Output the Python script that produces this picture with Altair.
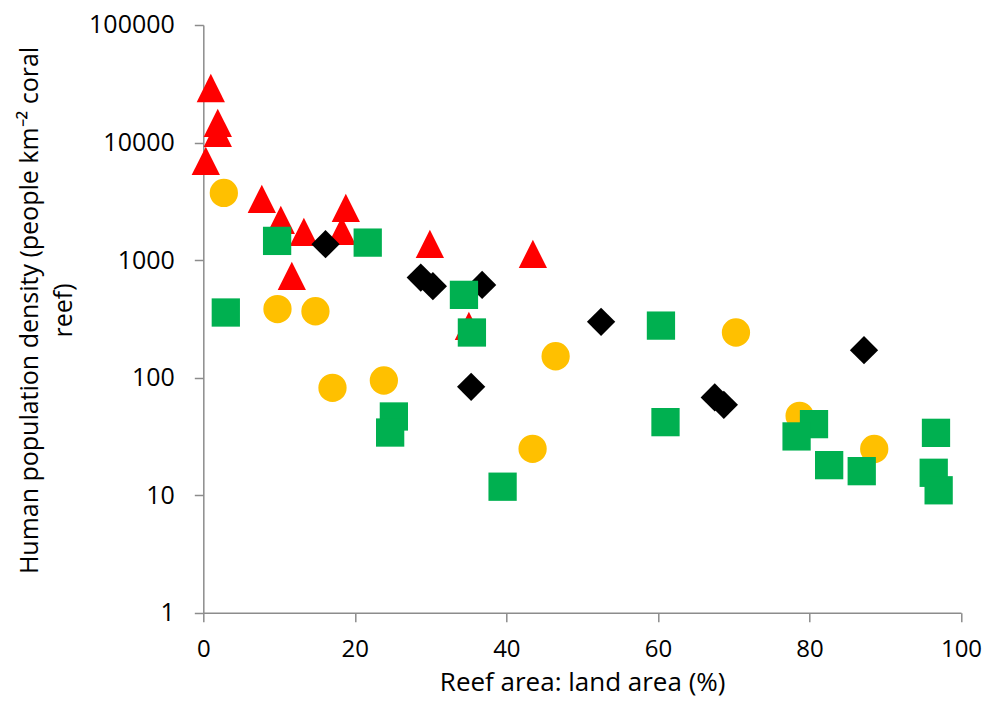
import altair as alt
import pandas as pd

# Red triangles
tri_x = [0.99, 1.91, 1.91, 0.33, 7.72, 10.23, 13.27, 18.81, 18.28, 11.68, 29.9, 43.5, 35.05]
tri_y = [29100, 14700, 12070, 6980, 3315, 2197, 1738, 2780, 1771, 734, 1373, 1129, 276]

# Yellow circles
circ_x = [2.71, 9.79, 14.8, 17.05, 23.83, 46.5, 70.3, 43.46, 78.7, 88.55]
circ_y = [3727, 383, 367, 81.9, 94.5, 152, 242, 24.8, 47.3, 24.7]

# Black diamonds
dia_x = [16.13, 28.7, 30.3, 36.8, 35.35, 52.5, 67.5, 68.7, 87.2]
dia_y = [1365, 710, 600, 615, 83.5, 298, 67.8, 58.7, 171]

# Green squares
sq_x = [9.74, 21.7, 2.97, 34.4, 35.45, 25.15, 24.66, 60.4, 61.0, 39.5, 80.6, 78.3, 82.6, 86.9, 96.7, 96.4, 97.05]
sq_y = [1456, 1408, 358, 506, 242, 46.7, 34.1, 277, 41.8, 11.8, 40.2, 31.6, 18.0, 16.0, 33.9, 15.5, 11.0]

series_names = ["triangle", "circle", "diamond", "square"]
series_colors = ["#FF0000", "#FFC000", "#000000", "#00B050"]
series_shapes = ["M-1,1L1,1L0,-1Z", "circle", "diamond", "square"]
series_sizes = [800, 800, 625, 800]

x_ticks = [0, 20, 40, 60, 80, 100]
y_ticks = [1, 10, 100, 1000, 10000, 100000]

rows = []
for name, xs, ys in zip(series_names, [tri_x, circ_x, dia_x, sq_x], [tri_y, circ_y, dia_y, sq_y]):
    for xv, yv in zip(xs, ys):
        rows.append({"series": name, "x": xv, "y": yv})
df = pd.DataFrame(rows)

FONT = "Open Sans"
AXIS_GRAY = "#8C8C8C"

chart = alt.Chart(df).mark_point(filled=True, opacity=1, strokeWidth=0).encode(
    x=alt.X("x:Q",
            scale=alt.Scale(domain=[0, 100], nice=False, zero=False),
            axis=alt.Axis(values=x_ticks, title="Reef area: land area (%)",
                          grid=False, domainColor=AXIS_GRAY, domainWidth=1.5,
                          tickColor=AXIS_GRAY, tickWidth=1.5, tickSize=9,
                          labelPadding=16, labelFontSize=24, labelFont=FONT,
                          labelColor="#000000", labelFlush=False,
                          titleFont=FONT, titleFontSize=26, titleFontWeight="normal",
                          titleColor="#000000", titleBaseline="alphabetic",
                          titleY=78, titleX=378.85, titleAlign="center")),
    y=alt.Y("y:Q",
            scale=alt.Scale(type="log", domain=[1, 100000], nice=False),
            axis=alt.Axis(values=y_ticks, format="d",
                          title=["Human population density (people km\u207b\u00b2 coral", "reef)"],
                          grid=False, domainColor=AXIS_GRAY, domainWidth=1.5,
                          tickColor=AXIS_GRAY, tickWidth=1.5, tickSize=9,
                          labelPadding=20, labelFontSize=25, labelFont=FONT,
                          labelColor="#000000", labelFlush=False,
                          titleFont=FONT, titleFontSize=25, titleFontWeight="normal",
                          titleColor="#000000", titleAngle=270,
                          titleBaseline="alphabetic", titleAlign="center",
                          titleX=-166, titleY=285, titleLineHeight=34)),
    color=alt.Color("series:N", scale=alt.Scale(domain=series_names, range=series_colors), legend=None),
    shape=alt.Shape("series:N", scale=alt.Scale(domain=series_names, range=series_shapes), legend=None),
    size=alt.Size("series:N", scale=alt.Scale(domain=series_names, range=series_sizes), legend=None),
).properties(
    width=757.7,
    height=587.7,
    background="#FFFFFF",
    autosize=alt.AutoSizeParams(type="none"),
    padding={"left": 195.3, "top": 17, "right": 25, "bottom": 88},
).configure_view(stroke=None)

chart.save("out.html", embed_options={"renderer": "svg", "actions": False})
